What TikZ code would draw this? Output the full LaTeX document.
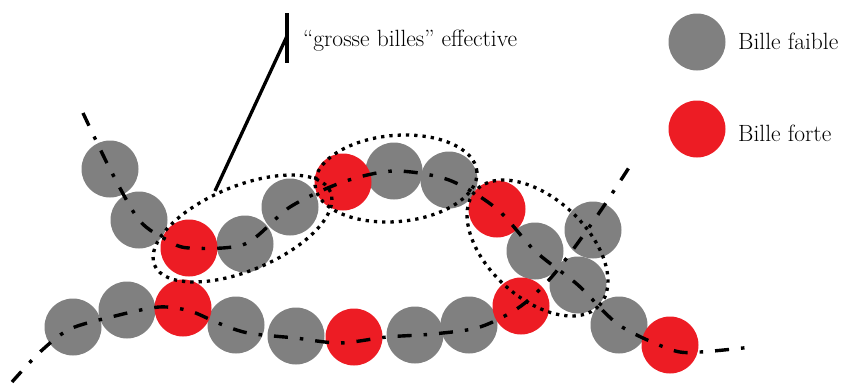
\documentclass[tikz,border=0pt]{standalone}
\usepackage{fontspec}
\definecolor{bgrey}{RGB}{128,128,128}
\definecolor{bred}{RGB}{237,28,36}
\tikzset{
  bead/.style={circle, inner sep=0pt, minimum size=57pt},
  weak/.style={bead, fill=bgrey},
  strong/.style={bead, fill=bred},
  chain/.style={line width=3.4pt, dash pattern=on 14pt off 12pt on 3.5pt off 12pt},
  group/.style={line width=3.3pt, dash pattern=on 3.3pt off 5pt},
  pointer/.style={line width=3.3pt},
  lbl/.style={font=\fontsize{23.5}{28}\selectfont, inner sep=0pt, anchor=base west},
}
\begin{document}
\begin{tikzpicture}[x=1pt,y=-1pt]
\useasboundingbox (0,0) rectangle (843,383);
% grey beads
\node[weak] (a1) at (110,169) {};
\node[weak] (a2) at (139,220) {};
\node[weak] (a4) at (245,244) {};
\node[weak] (a5) at (290,207) {};
\node[weak] (a7) at (394,171) {};
\node[weak] (a8) at (449,180) {};
\node[weak] (a10) at (535,251) {};
\node[weak] (b10) at (593,230) {};
\node[weak] (a12) at (578,285) {};
\node[weak] (a13) at (619,325) {};
\node[weak] (b1) at (73,327) {};
\node[weak] (b2) at (127,310) {};
\node[weak] (b4) at (236,325) {};
\node[weak] (b5) at (296,336) {};
\node[weak] (b7) at (415,335) {};
\node[weak] (b8) at (469,325) {};
% red beads
\node[strong] (a3) at (189,248) {};
\node[strong] (a6) at (343,182) {};
\node[strong] (a9) at (497,209) {};
\node[strong] (a14) at (670,345) {};
\node[strong] (b3) at (183,308) {};
\node[strong] (b6) at (354,337) {};
\node[strong] (b9) at (521,306) {};
% chain helper coordinates
\coordinate (u0) at (83,113);
\coordinate (u1) at (167,240);
\coordinate (u2) at (672,350);
\coordinate (u3) at (700,352);
\coordinate (u4) at (752,347);
\coordinate (l0) at (12,382);
\coordinate (l1) at (40,352);
\coordinate (l2) at (70,329);
\coordinate (l3) at (115,316);
\coordinate (l4) at (159,307);
\coordinate (l5) at (190,311);
\coordinate (l6) at (218,323);
\coordinate (l7) at (248,333);
\coordinate (l8) at (295,338);
\coordinate (l9) at (340,343);
\coordinate (l10) at (387,337);
\coordinate (l11) at (433,334);
\coordinate (l12) at (480,327);
\coordinate (l13) at (555,273);
\coordinate (l14) at (597,216);
\coordinate (l15) at (630,166);
% chains
\draw[chain] plot[smooth, tension=0.5] coordinates {(u0) (a1) (a2) (u1) (a3) (a4) (a5) (a6) (a7) (a8) (a9) (a10) (a12) (a13) (u2) (u3) (u4)};
\draw[chain] plot[smooth, tension=0.5] coordinates {(l0) (l1) (l2) (l3) (l4) (l5) (l6) (l7) (l8) (l9) (l10) (l11) (l12) (b9) (l13) (l14) (l15)};
% groups
\draw[group, rotate around={22.6:(242.5,228.5)}] (242.5,228.5) ellipse [x radius=95.3pt, y radius=42.2pt];
\draw[group, rotate around={4.9:(396,178.5)}] (396,178.5) ellipse [x radius=81.2pt, y radius=43.1pt];
\draw[group, rotate around={-42.9:(537.5,248)}] (537.5,248) ellipse [x radius=84.4pt, y radius=49.6pt];
% pointer
\node[lbl] (eff) at (303,46) {“grosse billes” effective};
\coordinate (barTop) at (287,13);
\coordinate (barBot) at (287,63);
\coordinate (barMid) at (287,36);
\coordinate (tip) at (215,191);
\draw[pointer] (barTop) -- (barBot);
\draw[pointer] (barMid) -- (tip);
% legend
\node[weak] (lw) at (697,42) {};
\node[strong] (ls) at (697,129) {};
\node[lbl] (tw) at (738,49) {Bille faible};
\node[lbl] (ts) at (738,141) {Bille forte};
\end{tikzpicture}
\end{document}
